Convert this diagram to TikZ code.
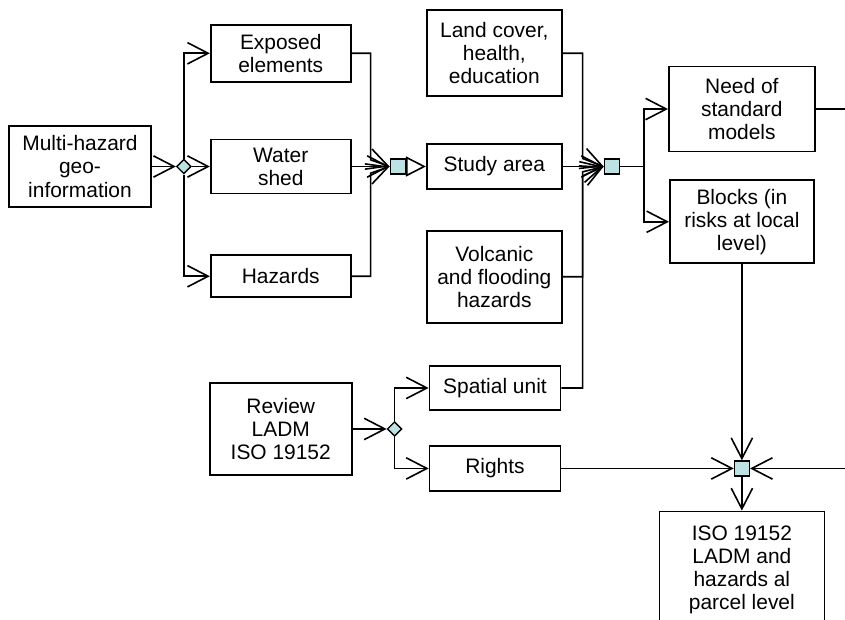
\documentclass[tikz,border=0pt]{standalone}
\usepackage{fontspec}
\setmainfont{Liberation Sans}
\usetikzlibrary{shapes.geometric, arrows.meta, positioning}
\definecolor{jointFill}{HTML}{BCE2E4}

\begin{document}
\begin{tikzpicture}[
    box/.style={rectangle, draw=black, line width=1.3pt, fill=white, align=center,
                inner sep=2pt, font=\fontsize{15.7}{17.3}\selectfont},
    joint/.style={rectangle, draw=black, line width=1pt, fill=jointFill, minimum size=11.25pt, inner sep=0pt},
    fork/.style={diamond, draw=black, line width=1pt, fill=jointFill, minimum size=11pt, inner sep=0pt},
    flow/.style={-{Straight Barb[length=15.5pt, width=16pt]}, line width=1.2pt},
    into/.style={-{Triangle[open, length=15pt, width=15pt]}, line width=1.2pt}
]
\useasboundingbox (0,0) rectangle (633.75pt,-464.25pt);
\clip (0,0) rectangle (633.75pt,-464.25pt);

% Multi-hazard branch
\node[box, minimum width=106.5pt, minimum height=60.75pt] (geo) at (60pt,-124.875pt) {Multi-hazard\\geo-\\information};
\node[fork, right=18pt of geo] (forkA) {};
\node[box, minimum width=105pt, minimum height=40.5pt, right=43.5pt of geo] (shed) {Water\\shed};
\node[box, minimum width=105pt, minimum height=42.75pt, above=42pt of shed] (exposed) {Exposed\\elements};
\node[box, minimum width=105pt, minimum height=31.5pt, below=45pt of shed] (hazards) {Hazards};
\node[joint, right=28.5pt of shed] (mergeA) {};
\coordinate (busA) at ([xshift=14.25pt]shed.east);

% Study area column
\node[box, minimum width=101.25pt, minimum height=33.75pt, right=15pt of mergeA] (study) {Study area};
\node[box, minimum width=101.25pt, minimum height=64.5pt, above=34.5pt of study] (land) {Land cover,\\health,\\education};
\node[box, minimum width=101.25pt, minimum height=69pt, below=30pt of study] (volcanic) {Volcanic\\and flooding\\hazards};
\node[joint, right=30.75pt of study] (mergeB) {};
\coordinate (busB) at ([xshift=15pt]study.east);

% Models and blocks
\node[box, minimum width=109.5pt, minimum height=63.75pt, right=36pt of mergeB, yshift=43.1pt] (need) {Need of\\standard\\models};
\node[box, minimum width=108pt, minimum height=62.25pt, below=20.25pt of need] (blocks) {Blocks (in\\risks at local\\level)};
\coordinate (busC) at ([xshift=-18pt]need.west);

% LADM branch
\node[box, minimum width=106.5pt, minimum height=69pt, below=63pt of hazards] (review) {Review\\LADM\\ISO 19152};
\node[fork, right=25.5pt of review] (forkB) {};
\node[box, minimum width=98.25pt, minimum height=33pt, right=19.5pt of forkB, yshift=30.75pt] (spatial) {Spatial unit};
\node[box, minimum width=98.25pt, minimum height=33.75pt, right=19.5pt of forkB, yshift=-29.6pt] (rights) {Rights};

% Parcel level
\node[joint] (mergeC) at (blocks.south |- rights) {};
\node[box, minimum width=123.75pt, inner ysep=10.5pt, below=25.5pt of mergeC] (parcel)
    {\parbox[t][150pt][t]{110pt}{\centering ISO 19152\\LADM and\\hazards al\\parcel level}};

% Arrows
\draw[flow] (geo.east) -- (forkA.west);
\draw[flow] (forkA.north) |- (exposed.west);
\draw[flow] (forkA.east) -- (shed.west);
\draw[flow] (forkA.south) |- (hazards.west);
\draw[flow] (exposed.east) -| ([yshift=5pt]busA) -- (mergeA.west);
\draw[flow] (shed.east) -- (mergeA.west);
\draw[flow] (hazards.east) -| ([yshift=-5pt]busA) -- (mergeA.west);
\draw[into] (mergeA.east) -- (study.west);

\draw[flow] (land.east) -| ([yshift=6pt]busB) -- (mergeB.west);
\draw[flow] (study.east) -- (mergeB.west);
\draw[flow] (volcanic.east) -| ([yshift=-4pt]busB) -- (mergeB.west);
\draw[flow] (spatial.east) -| ([yshift=-7pt]busB) -- (mergeB.west);

\draw[flow] (mergeB.east) -| (busC) -- (need.west);
\draw[flow] (mergeB.east) -| (busC |- blocks.west) -- (blocks.west);

\draw[flow] (review.east) -- (forkB.west);
\draw[flow] (forkB.north) |- (spatial.west);
\draw[flow] (forkB.south) |- (rights.west);

\draw[flow] (blocks.south) -- (mergeC.north);
\draw[flow] (rights.east) -- (mergeC.west);
\draw[flow] (need.east) -- ++(60pt,0) |- (mergeC.east);
\draw[flow] (mergeC.south) -- (parcel.north);

\end{tikzpicture}
\end{document}
